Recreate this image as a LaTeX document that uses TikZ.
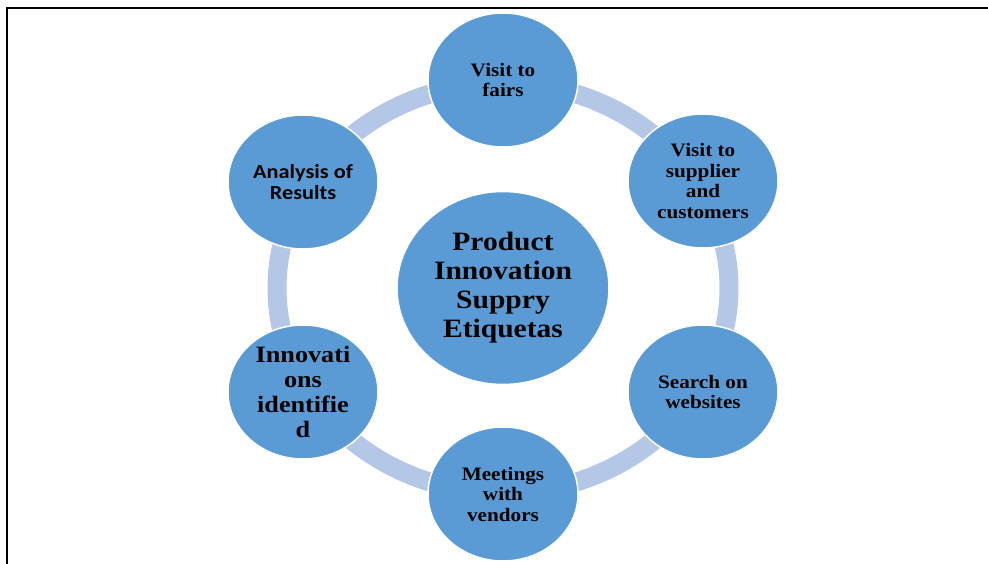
\documentclass[tikz,border=0pt]{standalone}
\usepackage{fontspec}
\setmainfont{Liberation Serif}[FakeStretch=1.115]
\newfontfamily\calib{Carlito}[FakeStretch=1.115]
\usepackage{tikz}
\usetikzlibrary{shapes.geometric,backgrounds}
\definecolor{bubble}{RGB}{91,155,213}
\definecolor{ringblue}{RGB}{180,199,231}

\begin{document}
\begin{tikzpicture}[x=1pt,y=-1pt,
	item/.style={ellipse,fill=bubble,draw=white,line width=1.5pt,minimum width=150pt,minimum height=134pt,inner sep=0pt,align=center,font=\fontsize{19}{20.5}\selectfont\bfseries},
	hub/.style={ellipse,fill=bubble,draw=white,line width=1.5pt,minimum width=212pt,minimum height=193pt,inner sep=0pt,align=center,font=\fontsize{26.5}{29}\selectfont\bfseries},
	ringline/.style={draw=ringblue,line width=19pt}]
		\useasboundingbox (0,0) rectangle (988,564);
		\clip (0,0) rectangle (988,564);
		\draw[line width=2pt] (7,565) -- (7,8) -- (989,8);
		\node[hub] (core) at (503,288) {Product\\Innovation\\Suppry\\Etiquetas};
		\node[item] (fairs) at (503,80) {Visit to\\fairs};
		\node[item] (supplier) at (703,181) {Visit to\\supplier\\and\\customers};
		\node[item] (websites) at (703,392) {Search on\\websites};
		\node[item] (vendors) at (503,494) {Meetings\\with\\vendors};
		\node[item,font=\fontsize{23.5}{25}\selectfont\bfseries] (found) at (303,392) {Innovati\\ons\\identifie\\d};
		\node[item,font=\calib\fontsize{20}{21}\selectfont\bfseries] (results) at (303,182) {Analysis of\\Results};
		\begin{scope}[on background layer]
			\draw[ringline] (core.center) ellipse [x radius=226,y radius=205];
		\end{scope}
	\end{tikzpicture}
\end{document}
